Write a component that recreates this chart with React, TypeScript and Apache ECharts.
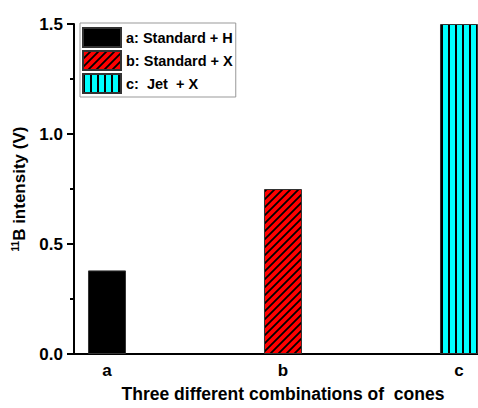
import React, { useEffect, useRef } from "react";
import * as echarts from "echarts";

const categories = ["a", "b", "c"];
const seriesNames = ["a: Standard + H", "b: Standard + X", "c:  Jet  + X"];
const values = [0.38, 0.75, 1.5];
const xPositions = [1, 2, 3];
const yTicks = [0, 0.5, 1.0, 1.5];

function makeDiagonal(): HTMLCanvasElement {
  const c = document.createElement("canvas");
  const s = 8;
  c.width = s;
  c.height = s;
  const ctx = c.getContext("2d")!;
  ctx.fillStyle = "#ff0000";
  ctx.fillRect(0, 0, s, s);
  ctx.strokeStyle = "#000000";
  ctx.lineWidth = 1.8;
  ctx.beginPath();
  ctx.moveTo(-2, s + 2);
  ctx.lineTo(s + 2, -2);
  ctx.moveTo(-2, 2);
  ctx.lineTo(2, -2);
  ctx.moveTo(s - 2, s + 2);
  ctx.lineTo(s + 2, s - 2);
  ctx.stroke();
  return c;
}

function makeVertical(): HTMLCanvasElement {
  const c = document.createElement("canvas");
  c.width = 7;
  c.height = 4;
  const ctx = c.getContext("2d")!;
  ctx.fillStyle = "#00ffff";
  ctx.fillRect(0, 0, 7, 4);
  ctx.fillStyle = "#000000";
  ctx.fillRect(0, 0, 2, 4);
  return c;
}

export default function App() {
  const ref = useRef<HTMLDivElement>(null);
  useEffect(() => {
    if (!ref.current) return;
    const chart = echarts.init(ref.current, null, { renderer: "svg" });
    const diag = makeDiagonal();
    const vert = makeVertical();
    const fills: any[] = [
      "#000000",
      { image: diag, repeat: "repeat", imageWidth: 8, imageHeight: 8 },
      { image: vert, repeat: "repeat", imageWidth: 7, imageHeight: 4 },
    ];
    const font = "Arial, 'Liberation Sans', sans-serif";
    chart.setOption({
      animation: false,
      backgroundColor: "#ffffff",
      grid: { left: 74, right: 0, top: 24, bottom: 49 },
      legend: {
        orient: "vertical",
        left: 80,
        top: 23,
        icon: "rect",
        itemWidth: 38,
        itemHeight: 19,
        itemGap: 2,
        padding: [4, 3, 3, 2],
        borderColor: "#999999",
        borderWidth: 1,
        backgroundColor: "#ffffff",
        textStyle: { fontFamily: font, fontWeight: "bold", fontSize: 14.5, color: "#000" },
        data: seriesNames,
      },
      xAxis: {
        type: "value",
        min: 0.8125,
        max: 3.108,
        splitLine: { show: false },
        axisLine: { show: true, onZero: false, lineStyle: { color: "#000", width: 2 } },
        axisTick: { show: false },
        axisLabel: {
          customValues: xPositions,
          formatter: (v: number) => categories[Math.round(v) - 1] ?? "",
          fontFamily: font,
          fontWeight: "bold",
          fontSize: 17,
          color: "#000",
          margin: 8,
        },
        name: "Three different combinations of  cones",
        nameLocation: "middle",
        nameGap: 31,
        nameTextStyle: {
          fontFamily: font,
          fontWeight: "bold",
          fontSize: 17.5,
          color: "#000",
          padding: [0, 0, 0, 14],
        },
      },
      yAxis: {
        type: "value",
        min: 0,
        max: 1.5,
        interval: 0.5,
        splitLine: { show: false },
        axisLine: { show: true, lineStyle: { color: "#000", width: 2 } },
        axisTick: { show: true, length: 7, lineStyle: { color: "#000", width: 2 } },
        minorTick: { show: true, splitNumber: 2, length: 4, lineStyle: { color: "#000", width: 2 } },
        axisLabel: {
          customValues: yTicks,
          formatter: (v: number) => v.toFixed(1),
          fontFamily: font,
          fontWeight: "bold",
          fontSize: 17,
          color: "#000",
          margin: 11,
        },
        name: "{sup|11}B intensity (V)",
        nameLocation: "middle",
        nameGap: 42,
        nameTextStyle: {
          fontFamily: font,
          fontWeight: "bold",
          fontSize: 17,
          color: "#000",
          rich: {
            sup: { fontFamily: font, fontWeight: "bold", fontSize: 10, verticalAlign: "bottom", padding: [0, 0, 8, 0], color: "#000" },
          },
        },
      },
      series: seriesNames.map((name, i) => ({
        name,
        type: "bar",
        barWidth: 38,
        barGap: "-100%",
        itemStyle: { color: fills[i], borderColor: "#333333", borderWidth: 1 },
        data: [[xPositions[i], values[i]]],
      })),
    });
    return () => chart.dispose();
  }, []);
  return <div ref={ref} style={{ width: 478, height: 408, position: "absolute", left: 0, top: 0 }} />;
}
